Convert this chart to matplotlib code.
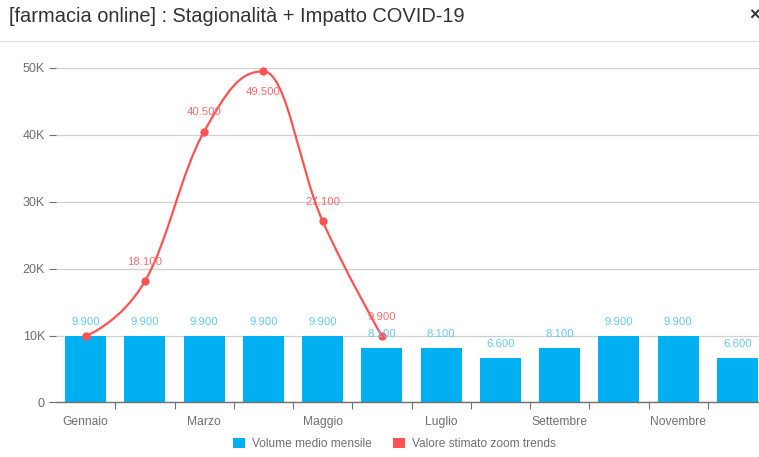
import numpy as np
import matplotlib
matplotlib.use('Agg')
import matplotlib.pyplot as plt
from matplotlib.patches import Patch
from matplotlib.path import Path
from matplotlib.patches import PathPatch
from matplotlib.lines import Line2D

plt.rcParams['font.family'] = ['Liberation Sans', 'DejaVu Sans']

# data
months = ['Gennaio', '', 'Marzo', '', 'Maggio', '', 'Luglio', '', 'Settembre', '', 'Novembre', '']
volume = [9900, 9900, 9900, 9900, 9900, 8100, 8100, 6600, 8100, 9900, 9900, 6600]
zoom_trends = [9900, 18100, 40500, 49500, 27100, 9900]
y_ticks = [0, 10000, 20000, 30000, 40000, 50000]
y_labels = ['0', '10K', '20K', '30K', '40K', '50K']

W, H = 759, 457
BLUE = '#00b0f0'
RED = '#ff5252'
GREY = '#707070'


def it_number(v):
    return f'{v:,}'.replace(',', '.')


def spline_path(xs, ys, smoothing=1.5):
    # same smoothing rule as the web chart: tangents kept flat at the peaks
    denom = smoothing + 1
    verts = [(xs[0], ys[0])]
    codes = [Path.MOVETO]
    n = len(xs)
    right_prev = (xs[0], ys[0])
    for i in range(1, n):
        x, y = xs[i], ys[i]
        lx, ly = xs[i - 1], ys[i - 1]
        if i < n - 1:
            nx, ny = xs[i + 1], ys[i + 1]
            left_x = (smoothing * x + lx) / denom
            left_y = (smoothing * y + ly) / denom
            right_x = (smoothing * x + nx) / denom
            right_y = (smoothing * y + ny) / denom
            corr = (right_y - left_y) * (right_x - x) / (right_x - left_x) + y - right_y
            left_y += corr
            right_y += corr
            if left_y > ly and left_y > y:
                left_y = max(ly, y)
                right_y = 2 * y - left_y
            elif left_y < ly and left_y < y:
                left_y = min(ly, y)
                right_y = 2 * y - left_y
            if right_y > ny and right_y > y:
                right_y = max(ny, y)
                left_y = 2 * y - right_y
            elif right_y < ny and right_y < y:
                right_y = min(ny, y)
                left_y = 2 * y - right_y
        else:
            left_x, left_y = x, y
            right_x, right_y = x, y
        verts += [right_prev, (left_x, left_y), (x, y)]
        codes += [Path.CURVE4] * 3
        right_prev = (right_x, right_y)
    return Path(verts, codes)


fig = plt.figure(figsize=(W / 100, H / 100), dpi=100, facecolor='white')
# the axis runs past the right edge of the picture, as in the screenshot
ax = fig.add_axes([56 / W, 1 - 402.4 / H, 711 / W, 334.4 / H])

x = np.arange(len(volume))
ax.bar(x, volume, width=0.69, color=BLUE, zorder=2)

xl = np.arange(len(zoom_trends))
ax.add_patch(PathPatch(spline_path(xl, zoom_trends), fill=False, edgecolor=RED, lw=1.6,
                       zorder=3, clip_on=False))
ax.plot(xl, zoom_trends, ls='none', marker='o', ms=6, color=RED, mew=0, zorder=4, clip_on=False)

for xi, v in zip(x, volume):
    ax.annotate(it_number(v), (xi, v), xytext=(0, 10.2), textcoords='offset points',
                ha='center', va='center', fontsize=8.2, color='#62caf5', zorder=5)

# the first red label sits hidden, the fourth goes under its point
offsets = [None, 13.6, 13.8, -14.8, 13.8, 13.8]
for xi, v, off in zip(xl, zoom_trends, offsets):
    if off is None:
        continue
    ax.annotate(it_number(v), (xi, v), xytext=(0, off), textcoords='offset points',
                ha='center', va='center', fontsize=8.2, color='#ff6a70', zorder=5)

ax.set_xlim(-0.5, len(volume) - 0.5)
ax.set_ylim(0, 50000)
ax.set_yticks(y_ticks)
ax.set_yticklabels(y_labels)
ax.set_xticks(x[:-1] + 0.5)
ax.set_xticklabels([])
ax.set_xticks(x, labels=months, minor=True)

ax.tick_params(axis='y', length=5, width=0.8, color=GREY, labelcolor=GREY, labelsize=9, pad=3)
ax.tick_params(axis='x', which='major', length=5, width=0.8, color=GREY)
ax.tick_params(axis='x', which='minor', length=0, labelcolor=GREY, labelsize=8.7, pad=10)

ax.grid(axis='y', color='#d0d0d0', lw=0.9, zorder=1)
ax.set_axisbelow(True)
for side in ['top', 'right', 'left']:
    ax.spines[side].set_visible(False)
ax.spines['bottom'].set_color(GREY)
ax.spines['bottom'].set_linewidth(1)

# header
fig.text(9 / W, 1 - 17 / H, '[farmacia online] : Stagionalità + Impatto COVID-19',
         fontsize=14.4, color='#333333', ha='left', va='center')
fig.text(754 / W, 1 - 16 / H, '×', fontsize=13, color='#333333', ha='center', va='center',
         fontweight='bold')
fig.add_artist(Line2D([0, 1], [1 - 40.5 / H] * 2, color='#dddddd', lw=0.9))

handles = [Patch(facecolor=BLUE, label='Volume medio mensile'),
           Patch(facecolor=RED, label='Valore stimato zoom trends')]
fig.legend(handles=handles, ncol=2, loc='center', bbox_to_anchor=(394.5 / W, 1 - 444 / H),
           frameon=False, fontsize=8.6, labelcolor=GREY, handlelength=1, handleheight=1,
           handletextpad=0.55, columnspacing=1.85, borderpad=0)

fig.savefig('out.png', dpi=100)
